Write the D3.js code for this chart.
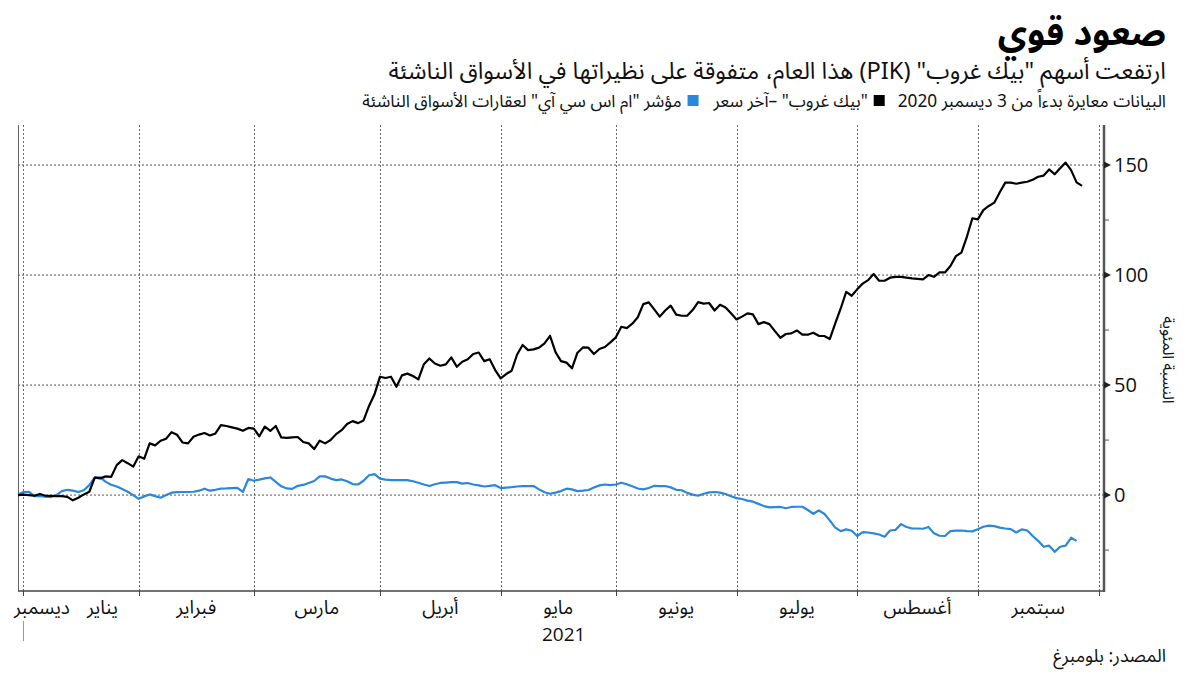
<!DOCTYPE html>
<html><head><meta charset="utf-8">
<script src="https://cdn.jsdelivr.net/npm/d3@7"></script>
<style>
body{margin:0;background:#fff}
svg{display:block}
</style>
</head><body>
<svg id="chart" width="1200" height="675"></svg>
<script>
// ---------- data ----------
const startDate = "2020-12-31";              // first trading day on the chart
const extraTradingDays = ["2021-02-20"];     // Saturday working day (Moscow)
const axisEndDate = "2021-10-04";
const monthStarts = ["2021-01-01","2021-02-01","2021-03-01","2021-04-01","2021-05-01","2021-06-01","2021-07-01","2021-08-01","2021-09-01","2021-10-01"];
const monthLabels = ["ديسمبر","يناير","فبراير","مارس","أبريل","مايو","يونيو","يوليو","أغسطس","سبتمبر"];
const yearLabel = "2021";
const yMajorTicks = [0,50,100,150];
const yMinorTicks = [-25,25,75,125];
const yDomain = [-43.6, 168.2];

const pikValues = [0,0.2,0,-0.3,0.5,-0.3,-0.4,-0.5,-0.5,-0.8,-2.4,-1.2,0.3,1.5,7.9,7.6,8.5,8.3,13.6,15.9,
14.5,12.9,17.6,16.5,23.5,22.6,24.7,25.6,28.6,27.4,23.9,23.5,26.5,27.5,28.2,27.1,28.0,31.8,31.4,30.8,
30.2,29.2,30.5,30.2,26.7,31.1,29.2,31.4,26.2,26.0,26.2,26.4,24.1,23.5,20.9,24.7,23.5,25.0,27.7,29.5,
32.3,33.6,32.7,33.9,40.5,45.8,53.8,53.2,53.8,49.2,54.4,55.2,54.1,52.6,59.5,62.1,59.8,58.8,59.4,62.6,
58.3,60.6,61.7,64.1,64.8,60.9,61.7,56.8,53.0,55.0,56.5,63.9,68.2,65.9,66.2,67.0,68.9,72.4,65.0,60.9,
60.2,57.6,64.7,67.1,67.0,64.1,66.4,67.3,69.4,71.7,76.5,75.9,77.9,80.8,86.8,87.6,84.4,81.1,83.9,86.1,
82.0,81.5,81.5,84.1,87.7,87.0,87.3,83.9,86.5,85.3,82.6,79.8,81.1,82.6,82.1,77.7,78.6,77.7,74.5,71.5,
73.2,73.5,74.8,72.9,72.9,73.8,72.4,72.3,70.9,78.0,84.8,92.4,90.6,93.5,96.1,97.7,100.5,97.4,97.4,98.8,
99.2,99.2,98.8,98.5,98.3,98.0,100.0,99.2,101.2,101.2,104.1,108.6,110.2,117.4,125.8,125.3,129.5,131.4,132.9,137.6,
142.0,142.0,141.5,142.0,142.4,143.3,144.7,145.2,148.0,145.8,148.5,151.1,147.7,142.1,140.5];

const emValues = [0.3,1.4,1.5,-0.5,-0.5,-0.7,-0.9,0,1.8,2.4,2.0,1.4,2.2,4.5,8.0,8.0,6.0,4.7,3.9,2.8,
1.5,0,-1.7,-0.6,0.3,-0.5,-1.2,0,1.1,1.3,1.4,1.4,1.5,2.0,2.9,2.0,2.4,2.9,3.0,3.2,
3.3,1.4,7.3,6.5,7.0,7.6,8.0,6.0,4.0,3.0,2.8,4.2,4.6,5.5,6.4,8.5,8.5,7.5,6.8,7.1,
6.3,5.0,4.8,6.5,9.0,9.5,7.5,7.0,6.8,6.8,6.8,6.8,6.3,5.6,4.8,4.1,4.9,5.5,5.7,5.9,
5.9,5.2,5.5,4.8,4.4,3.9,4.2,4.5,3.2,3.4,3.6,3.9,4.1,4.1,4.1,2.6,1.3,0.6,1.1,1.8,
2.9,2.6,1.8,2.0,2.3,3.4,4.4,4.8,4.5,4.8,5.6,4.9,4.0,3.0,2.6,3.2,4.2,4.1,4.1,3.5,
2.4,2.2,1.0,0.2,-0.3,0.6,1.2,1.4,1.1,0.5,-0.5,-1.4,-1.8,-2.5,-3.0,-4.0,-5.0,-5.6,-5.5,-5.4,
-6.0,-5.4,-5.3,-5.3,-6.8,-8.5,-7.0,-8.5,-11.5,-14.8,-16.4,-15.6,-16.2,-18.6,-16.8,-17.0,-17.4,-17.9,-18.9,-16.1,
-15.8,-13.2,-14.5,-15.2,-15.2,-15.3,-14.5,-17.4,-18.5,-18.6,-16.4,-16.2,-16.1,-16.4,-16.5,-15.5,-14.4,-13.9,-14.1,-14.8,
-15.2,-15.5,-17.0,-15.6,-16.1,-18.6,-20.8,-23.5,-23.0,-25.8,-23.5,-23.0,-19.4,-20.8];

const titleText = "صعود قوي";
const subtitleText = 'ارتفعت أسهم "بيك غروب" (PIK) هذا العام، متفوقة على نظيراتها في الأسواق الناشئة';
const legendNote = "البيانات معايرة بدءاً من 3 ديسمبر 2020";
const seriesNames = ['"بيك غروب" –آخر سعر', 'مؤشر "ام اس سي آي" لعقارات الأسواق الناشئة'];
const seriesColors = ["#000000", "#2a88dc"];
const axisTitle = "النسبة المئوية";
const sourceText = "المصدر: بلومبرغ";

// ---------- trading day calendar ----------
const parse = d3.utcParse("%Y-%m-%d");
const extraSet = new Set(extraTradingDays);
const tradingDays = d3.utcDay.range(parse(startDate), d3.utcDay.offset(parse(axisEndDate), 1))
  .filter(d => { const w = d.getUTCDay(); return (w !== 0 && w !== 6) || extraSet.has(d3.utcFormat("%Y-%m-%d")(d)); });
const dayIndex = date => d3.bisectLeft(tradingDays, parse(date));

// ---------- layout ----------
const svg = d3.select("#chart");
const arabicFont = "'Noto Sans Arabic','DejaVu Sans',sans-serif";
const numFont = "'Open Sans','Liberation Sans',sans-serif";
const plot = {left: 18, right: 1104, top: 125, bottom: 591};

const x = d3.scaleLinear().domain([0, tradingDays.length - 1]).range([plot.left, plot.right]);
const y = d3.scaleLinear().domain(yDomain).range([plot.bottom, plot.top]);

// gridlines
const gridMonths = monthStarts.map(dayIndex);
svg.append("g").selectAll("line").data(yMajorTicks).join("line")
  .attr("x1", plot.left).attr("x2", plot.right)
  .attr("y1", d => y(d)).attr("y2", d => y(d))
  .attr("stroke", "#555").attr("stroke-width", 1).attr("stroke-dasharray", "2,2");
svg.append("g").selectAll("line").data(gridMonths).join("line")
  .attr("x1", d => Math.round(x(d)) + 0.5).attr("x2", d => Math.round(x(d)) + 0.5)
  .attr("y1", plot.top).attr("y2", plot.bottom)
  .attr("stroke", "#666").attr("stroke-width", 1).attr("stroke-dasharray", "2,2");

// axes lines
svg.append("line").attr("x1", plot.left + 0.5).attr("x2", plot.left + 0.5)
  .attr("y1", plot.top).attr("y2", plot.bottom).attr("stroke", "#666").attr("stroke-width", 1);
svg.append("line").attr("x1", plot.left).attr("x2", plot.right)
  .attr("y1", plot.bottom).attr("y2", plot.bottom).attr("stroke", "#444").attr("stroke-width", 1.5);
svg.append("g").selectAll("line").data(gridMonths).join("line")
  .attr("x1", d => Math.round(x(d)) + 0.5).attr("x2", d => Math.round(x(d)) + 0.5)
  .attr("y1", plot.bottom).attr("y2", plot.bottom + 5)
  .attr("stroke", "#444").attr("stroke-width", 1);
svg.append("line").attr("x1", plot.right).attr("x2", plot.right)
  .attr("y1", plot.top).attr("y2", plot.bottom + 1).attr("stroke", "#555").attr("stroke-width", 2.5);

// right axis ticks
svg.append("g").selectAll("path").data(yMajorTicks).join("path")
  .attr("d", d => `M${plot.right},${y(d) - 3.5}L${plot.right + 7},${y(d)}L${plot.right},${y(d) + 3.5}Z`)
  .attr("fill", "#222");
svg.append("g").selectAll("line").data(yMinorTicks).join("line")
  .attr("x1", plot.right).attr("x2", plot.right + 5)
  .attr("y1", d => y(d)).attr("y2", d => y(d)).attr("stroke", "#555").attr("stroke-width", 1);
svg.append("g").selectAll("text").data(yMajorTicks).join("text")
  .attr("x", plot.right + 10).attr("y", d => y(d)).attr("dy", "0.36em")
  .attr("font-family", numFont).attr("font-size", 20).attr("fill", "#111")
  .text(d => d);

// axis title
svg.append("text")
  .attr("transform", `translate(1163,${(y(yDomain[1]) + y(yDomain[0])) / 2 + 2}) rotate(90)`)
  .attr("text-anchor", "middle").attr("font-family", arabicFont).attr("font-size", 16)
  .attr("fill", "#111").text(axisTitle);

// lines
const line = d3.line().x((d, i) => x(i)).y(d => y(d)).curve(d3.curveLinear);
[emValues, pikValues].forEach((vals, k) => {
  svg.append("path").datum(vals).attr("d", line)
    .attr("fill", "none")
    .attr("stroke", k === 0 ? seriesColors[1] : seriesColors[0])
    .attr("stroke-width", 2.2).attr("stroke-linejoin", "round");
});

// month labels
const labelY = 614;
const gx = gridMonths.map(x);
const lblG = svg.append("g").attr("font-family", arabicFont).attr("font-size", 19).attr("fill", "#111");
const decLabel = lblG.append("text").attr("text-anchor", "middle")
  .attr("y", labelY).text(monthLabels[0]);
const decW = decLabel.node().getComputedTextLength();
decLabel.attr("x", plot.left - 4 + decW / 2);
let prevRight = plot.left - 4 + decW;
for (let m = 1; m < monthLabels.length; m++) {
  const t = lblG.append("text").attr("text-anchor", "middle").attr("y", labelY).text(monthLabels[m]);
  const w = t.node().getComputedTextLength();
  let cx = (gx[m - 1] + gx[m]) / 2;
  if (cx - w / 2 < prevRight + 17) cx = prevRight + 17 + w / 2;
  t.attr("x", cx);
  prevRight = cx + w / 2;
}
svg.append("text").attr("x", (gx[0] + plot.right) / 2).attr("y", 641)
  .attr("text-anchor", "middle").attr("font-family", numFont).attr("font-size", 19)
  .attr("fill", "#111").text(yearLabel);
svg.append("line").attr("x1", Math.round(gx[0]) + 0.5).attr("x2", Math.round(gx[0]) + 0.5)
  .attr("y1", 621).attr("y2", 641).attr("stroke", "#999").attr("stroke-width", 1);

// titles
const rightEdge = 1166;
svg.append("text").attr("x", rightEdge).attr("y", 45).attr("direction", "rtl").attr("text-anchor", "start")
  .attr("font-family", arabicFont).attr("font-weight", "bold").attr("font-size", 36).attr("fill", "#000")
  .text(titleText);
svg.append("text").attr("x", rightEdge).attr("y", 79).attr("direction", "rtl").attr("text-anchor", "start")
  .attr("font-family", arabicFont).attr("font-size", 23.6).attr("fill", "#111")
  .text(subtitleText);

// legend
const legY = 107;
let lx = rightEdge;
const legText = (s) => {
  const t = svg.append("text").attr("x", lx).attr("y", legY).attr("direction", "rtl").attr("text-anchor", "start")
    .attr("font-family", arabicFont).attr("font-size", 17.3).attr("fill", "#111").text(s);
  lx -= t.node().getComputedTextLength();
};
const legSwatch = (c) => {
  lx -= 5;
  svg.append("rect").attr("x", lx - 11).attr("y", legY - 12).attr("width", 11).attr("height", 11).attr("fill", c);
  lx -= 17;
};
legText(legendNote);
lx -= 8;
legSwatch(seriesColors[0]);
legText(seriesNames[0]);
lx -= 10;
legSwatch(seriesColors[1]);
legText(seriesNames[1]);

// source
svg.append("text").attr("x", rightEdge).attr("y", 662).attr("direction", "rtl").attr("text-anchor", "start")
  .attr("font-family", arabicFont).attr("font-size", 18).attr("fill", "#111").text(sourceText);
</script>
</body></html>
